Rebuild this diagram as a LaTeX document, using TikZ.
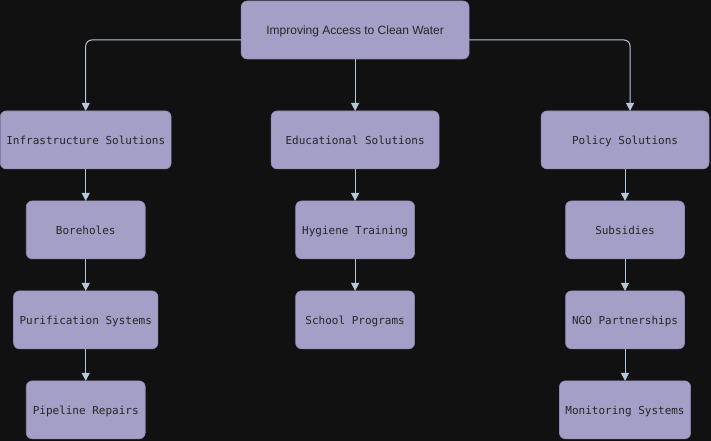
\documentclass[tikz,border=0pt]{standalone}
\usepackage{fontspec}
\setmainfont{Liberation Sans}
\newfontfamily\monobox{DejaVu Sans Mono}
\usetikzlibrary{positioning,arrows.meta}

\definecolor{pagebg}{HTML}{111111}
\definecolor{boxfill}{HTML}{A39FC6}
\definecolor{boxline}{HTML}{8E8AB3}
\definecolor{linkcol}{HTML}{B4C8DA}

\tikzset{
  solution/.style={rectangle, rounded corners=6pt, fill=boxfill, draw=boxline,
    line width=0.6pt, outer sep=0pt, minimum width=119pt, minimum height=58pt,
    inner xsep=6pt, text height=12pt, text depth=2.5pt,
    text=black!85, font=\monobox\fontsize{11}{13}\selectfont},
  branch/.style={solution, minimum width=168pt},
  goal/.style={solution, minimum width=228pt, font=\fontsize{12}{14}\selectfont},
  link/.style={draw=linkcol, line width=1pt, rounded corners=6pt,
    -{Triangle[width=8pt,length=8pt]}},
}

\begin{document}
\begin{tikzpicture}[x=1pt, y=1pt]
    \fill[pagebg] (0,0) rectangle (711,-441);

    \node[goal] (water) at (355,-30) {Improving Access to Clean Water};
    \node[branch, below=52pt of water] (edu) {Educational Solutions};
    \node[branch, below=52pt of water, xshift=-269.5pt] (infra) {Infrastructure Solutions};
    \node[branch, below=52pt of water, xshift=270pt] (policy) {Policy Solutions};

    \node[solution, below=32pt of infra] (bore) {Boreholes};
    \node[solution, below=32pt of bore] (purif) {Purification Systems};
    \node[solution, below=32pt of purif] (pipe) {Pipeline Repairs};

    \node[solution, below=32pt of edu] (hyg) {Hygiene Training};
    \node[solution, below=32pt of hyg] (school) {School Programs};

    \node[solution, below=32pt of policy] (subs) {Subsidies};
    \node[solution, below=32pt of subs] (ngo) {NGO Partnerships};
    \node[solution, below=32pt of ngo] (monit) {Monitoring Systems};

    \draw[link] ([yshift=-10pt]water.west) -| (infra);
    \draw[link] (water) -- (edu);
    \draw[link] ([yshift=-10pt]water.east) -| ([xshift=5pt]policy.north);

    \draw[link] (infra) -- (bore);
    \draw[link] (bore) -- (purif);
    \draw[link] (purif) -- (pipe);
    \draw[link] (edu) -- (hyg);
    \draw[link] (hyg) -- (school);
    \draw[link] (policy) -- (subs);
    \draw[link] (subs) -- (ngo);
    \draw[link] (ngo) -- (monit);
\end{tikzpicture}
\end{document}
